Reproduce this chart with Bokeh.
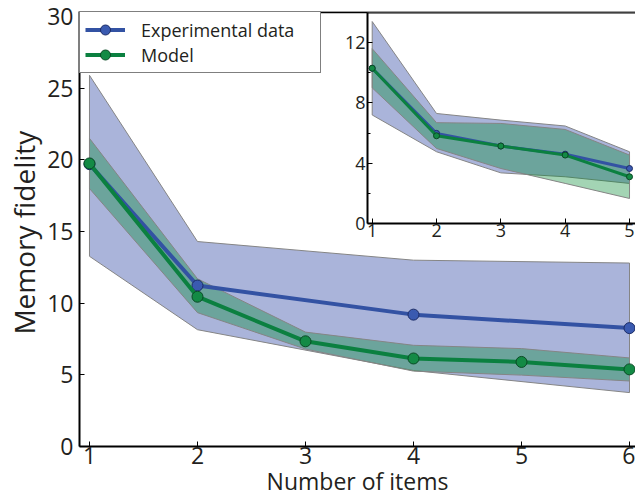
from bokeh.plotting import figure
from bokeh.models import Range1d, FixedTicker, Legend, LegendItem, Span, Title
from bokeh.layouts import column
from bokeh.embed import file_html
from bokeh.resources import INLINE

# ---------------- data (main panel) ----------------
n_items = [1, 2, 3, 4, 5, 6]
exp_items = [1, 2, 4, 6]
exp_mean = [19.7, 11.23, 9.2, 8.26]
exp_lower = [13.27, 8.15, 5.3, 3.76]
exp_upper = [25.9, 14.3, 13.0, 12.8]
model_mean = [19.75, 10.45, 7.34, 6.14, 5.9, 5.38]
model_lower = [18.0, 9.34, 6.8, 5.26, 4.98, 4.57]
model_upper = [21.5, 11.7, 7.98, 7.06, 6.83, 6.18]
x_ticks = [1, 2, 3, 4, 5, 6]
y_ticks = [0, 5, 10, 15, 20, 25, 30]
x_title = "Number of items"
y_title = "Memory  fidelity"

# ---------------- data (inset) ----------------
inset_items = [1, 2, 3, 4, 5]
inset_exp_mean = [10.3, 5.98, 5.14, 4.6, 3.65]
inset_exp_lower = [7.2, 4.76, 3.36, 3.1, 2.66]
inset_exp_upper = [13.4, 7.3, 6.86, 6.47, 4.76]
inset_model_mean = [10.3, 5.82, 5.14, 4.54, 3.1]
inset_model_lower = [9.0, 4.98, 3.65, 2.66, 1.66]
inset_model_upper = [11.6, 6.69, 6.64, 6.24, 4.54]
inset_x_ticks = [1, 2, 3, 4, 5]
inset_y_ticks = [0, 4, 8, 12]
inset_y_minor = [2, 6, 10]

BLUE_BAND = "#aab4da"
GREEN_BAND = "#00882f"
GREEN_ALPHA = 0.36
BLUE = "#3352a3"
GREEN = "#0b8040"
EDGE = "#858585"
TXT = "#231f20"
FONT = "Open Sans"


def band(fig, xs, lo, hi, color, alpha):
    px = list(xs) + list(xs)[::-1]
    py = list(hi) + list(lo)[::-1]
    fig.patch(px, py, fill_color=color, fill_alpha=alpha,
              line_color=EDGE, line_width=1)


def style_axis(ax, size):
    ax.axis_line_width = 2
    ax.axis_line_color = "black"
    ax.major_tick_in = 5
    ax.major_tick_out = 0
    ax.minor_tick_in = 0
    ax.minor_tick_out = 0
    ax.major_tick_line_color = "black"
    ax.major_tick_line_width = 1
    ax.major_label_text_font = FONT
    ax.major_label_text_font_size = size
    ax.major_label_text_color = TXT


# ---------------- main figure ----------------
p = figure(width=635, height=502,
           x_range=Range1d(0.9076, 6.0555), y_range=Range1d(0, 30.35),
           output_backend="svg", toolbar_location=None,
           min_border_left=78, min_border_right=0,
           min_border_top=11, min_border_bottom=56)
p.outline_line_color = None
p.xgrid.visible = False
p.ygrid.visible = False

band(p, exp_items, exp_lower, exp_upper, BLUE_BAND, 1.0)
band(p, n_items, model_lower, model_upper, GREEN_BAND, GREEN_ALPHA)

l_exp = p.line(exp_items, exp_mean, line_color=BLUE, line_width=4)
s_exp = p.scatter(exp_items, exp_mean, size=11, fill_color="#3a5ab0",
                  line_color="#1c2c66", line_width=1)
l_mod = p.line(n_items, model_mean, line_color=GREEN, line_width=4)
s_mod = p.scatter(n_items, model_mean, size=11, fill_color="#138a45",
                  line_color="#0a4a25", line_width=1)

p.xaxis.ticker = FixedTicker(ticks=x_ticks)
p.yaxis.ticker = FixedTicker(ticks=y_ticks)
style_axis(p.xaxis[0], "23px")
style_axis(p.yaxis[0], "23px")
p.xaxis.major_label_standoff = 0
p.yaxis.major_label_standoff = 6

# axis titles as panel titles so that they can be offset like the original
p.add_layout(Title(text=x_title, align="center", offset=23, standoff=-7,
                   text_font=FONT, text_font_size="23px",
                   text_font_style="normal", text_color=TXT), "below")
p.add_layout(Title(text=y_title, align="center", offset=-11, standoff=4,
                   text_font=FONT, text_font_size="28px",
                   text_font_style="normal", text_color=TXT), "left")

# top spine of the box
p.add_layout(Span(location=30.3, dimension="width", line_color="black",
                  line_width=2))

legend = Legend(items=[
    LegendItem(label="Experimental data", renderers=[l_exp, s_exp]),
    LegendItem(label="Model", renderers=[l_mod, s_mod]),
], location="top_left")
legend.margin = 0
legend.padding = 5
legend.spacing = 0
legend.glyph_width = 40
legend.glyph_height = 25
legend.label_height = 25
legend.label_standoff = 16
legend.label_width = 174
legend.label_text_font = FONT
legend.label_text_font_size = "18px"
legend.label_text_color = TXT
legend.border_line_color = "black"
legend.border_line_width = 1
legend.background_fill_color = "white"
legend.background_fill_alpha = 1
p.add_layout(legend, "center")

# ---------------- inset ----------------
ins = figure(width=347, height=248,
             x_range=Range1d(0.927, 5.093), y_range=Range1d(0, 14.0),
             output_backend="svg", toolbar_location=None,
             min_border_left=22, min_border_right=0,
             min_border_top=12, min_border_bottom=25,
             styles={"position": "absolute", "left": "288px", "top": "0px",
                     "z-index": "5"})
ins.outline_line_color = None
ins.border_fill_color = None
ins.background_fill_color = "white"
ins.xgrid.visible = False
ins.ygrid.visible = False

band(ins, inset_items, inset_exp_lower, inset_exp_upper, BLUE_BAND, 1.0)
band(ins, inset_items, inset_model_lower, inset_model_upper, GREEN_BAND, GREEN_ALPHA)
ins.line(inset_items, inset_exp_mean, line_color=BLUE, line_width=3)
ins.scatter(inset_items, inset_exp_mean, size=6, fill_color="#3a5ab0",
            line_color="#1c2c66", line_width=1)
ins.line(inset_items, inset_model_mean, line_color=GREEN, line_width=3)
ins.scatter(inset_items, inset_model_mean, size=6, fill_color="#138a45",
            line_color="#0a4a25", line_width=1)

ins.xaxis.ticker = FixedTicker(ticks=inset_x_ticks)
ins.yaxis.ticker = FixedTicker(ticks=inset_y_ticks, minor_ticks=inset_y_minor)
style_axis(ins.xaxis[0], "18px")
style_axis(ins.yaxis[0], "18px")
ins.yaxis.minor_tick_in = 3
ins.xaxis.major_label_standoff = 0
ins.yaxis.major_label_standoff = 2

ins.add_layout(Span(location=14.0, dimension="width", line_color="black",
                    line_width=2))

layout = column(p, ins)
open("out.html", "w").write(file_html(layout, INLINE))
